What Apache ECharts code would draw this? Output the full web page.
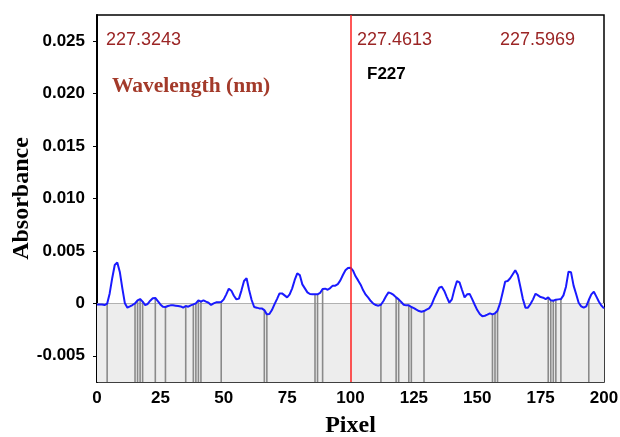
<!DOCTYPE html>
<html>
<head>
<meta charset="utf-8">
<script src="https://cdn.jsdelivr.net/npm/echarts@6/dist/echarts.min.js"></script>
<style>
html, body { margin: 0; padding: 0; background: #fff; }
#chart { width: 620px; height: 437px; }
</style>
</head>
<body>
<div id="chart"></div>
<script>
// absorbance read for each detector pixel 0..200
var absorbance = [
  -0.00010, -0.00010, -0.00010, -0.00016, -0.00003, 0.00095, 0.00240, 0.00366, 0.00390, 0.00300,
  0.00143, 0.00000, -0.00041, -0.00029, -0.00016, 0.00000, 0.00029, 0.00041, 0.00016, -0.00016,
  -0.00006, 0.00025, 0.00048, 0.00051, 0.00022, -0.00010, -0.00032, -0.00035, -0.00025, -0.00019,
  -0.00019, -0.00022, -0.00025, -0.00029, -0.00041, -0.00025, -0.00032, -0.00019, -0.00010, 0.00000,
  0.00029, 0.00016, 0.00029, 0.00016, 0.00006, -0.00016, 0.00000, 0.00010, 0.00010, 0.00013,
  0.00038, 0.00086, 0.00140, 0.00121, 0.00073, 0.00038, 0.00045, 0.00124, 0.00213, 0.00239,
  0.00127, 0.00032, -0.00035, -0.00041, -0.00048, -0.00048, -0.00064, -0.00105, -0.00102, -0.00064,
  -0.00010, 0.00041, 0.00095, 0.00095, 0.00076, 0.00057, 0.00086, 0.00143, 0.00223, 0.00286,
  0.00270, 0.00181, 0.00143, 0.00105, 0.00089, 0.00086, 0.00086, 0.00086, 0.00099, 0.00137,
  0.00140, 0.00130, 0.00146, 0.00169, 0.00169, 0.00184, 0.00219, 0.00270, 0.00315, 0.00337,
  0.00340, 0.00312, 0.00258, 0.00219, 0.00178, 0.00124, 0.00083, 0.00054, 0.00022, -0.00003,
  -0.00016, -0.00022, -0.00013, 0.00022, 0.00067, 0.00105, 0.00095, 0.00080, 0.00057, 0.00038,
  0.00013, -0.00013, -0.00019, -0.00019, -0.00035, -0.00045, -0.00060, -0.00073, -0.00080, -0.00073,
  -0.00060, -0.00048, -0.00013, 0.00048, 0.00099, 0.00149, 0.00159, 0.00118, 0.00060, 0.00006,
  0.00038, 0.00134, 0.00213, 0.00200, 0.00127, 0.00057, 0.00086, 0.00090, 0.00040, -0.00013,
  -0.00064, -0.00102, -0.00124, -0.00118, -0.00108, -0.00095, -0.00105, -0.00095, -0.00070, 0.00000,
  0.00102, 0.00207, 0.00213, 0.00239, 0.00277, 0.00315, 0.00270, 0.00159, 0.00041, -0.00041,
  -0.00041, -0.00006, 0.00038, 0.00092, 0.00076, 0.00060, 0.00054, 0.00041, 0.00057, 0.00029,
  0.00025, 0.00035, 0.00038, 0.00041, 0.00076, 0.00159, 0.00302, 0.00296, 0.00169, 0.00089,
  0.00006, -0.00029, -0.00041, -0.00029, 0.00032, 0.00086, 0.00111, 0.00064, 0.00016, -0.00022,
  -0.00048
];
// pixels marked with grey lines
var linePixels = [4, 15, 16, 17, 18, 23, 27, 35, 38, 39, 40, 41, 49, 66, 67, 86, 87, 89,
  112, 118, 119, 123, 124, 129, 156, 157, 158, 178, 179, 180, 181, 183, 194];
var yTicks = [-0.005, 0, 0.005, 0.010, 0.015, 0.020, 0.025];
var wavelengths = ['227.3243', '227.4613', '227.5969'];
var markerPixel = 100;
var markerName = 'F227';

var yMin = -0.0075, yMax = 0.0275;

var chart = echarts.init(document.getElementById('chart'));

var seriesData = [];
for (var i = 0; i < absorbance.length; i++) {
  seriesData.push([i, absorbance[i]]);
}
var lineData = linePixels.map(function (p) { return [p, absorbance[p]]; });

var tickFont = { color: '#000', fontFamily: '"Liberation Sans", Arial', fontWeight: 'bold', fontSize: 17 };
var nameFont = { color: '#000', fontFamily: '"Liberation Serif", "Times New Roman"', fontWeight: 'bold', fontSize: 24 };
var redFont = '18px "Liberation Sans", Arial';

var option = {
  animation: false,
  backgroundColor: '#fff',
  grid: {
    left: 97, top: 15, right: 16, bottom: 55,
    outerBoundsMode: 'none',
    containLabel: false,
    show: true, borderColor: '#000', borderWidth: 1.5
  },
  xAxis: {
    type: 'value', min: 0, max: 200, interval: 25,
    name: 'Pixel', nameLocation: 'middle', nameGap: 32, nameTextStyle: nameFont,
    axisLine: { lineStyle: { color: '#000', width: 2 } },
    axisTick: { length: 4, lineStyle: { color: '#000' } },
    axisLabel: Object.assign({ margin: 8 }, tickFont),
    splitLine: { show: false }
  },
  yAxis: {
    type: 'value', min: yMin, max: yMax,
    name: 'Absorbance', nameLocation: 'middle', nameGap: 63, nameMoveOverlap: false,
    nameTextStyle: nameFont,
    axisLine: { show: true, lineStyle: { color: '#000', width: 2 } },
    axisTick: { show: true, length: 4, customValues: yTicks, lineStyle: { color: '#000' } },
    axisLabel: Object.assign({
      margin: 12,
      customValues: yTicks,
      formatter: function (v) { return Math.abs(v) < 1e-9 ? '0' : v.toFixed(3); }
    }, tickFont),
    splitLine: { show: false }
  },
  series: [
    {
      type: 'custom',
      z: 2,
      data: lineData,
      renderItem: function (params, api) {
        var top = api.coord([api.value(0), api.value(1)]);
        var bottom = api.coord([api.value(0), yMin]);
        return {
          type: 'line',
          shape: { x1: top[0], y1: top[1], x2: bottom[0], y2: bottom[1] },
          style: { stroke: '#8a8a8a', lineWidth: 1.6 }
        };
      },
      markArea: {
        silent: true,
        itemStyle: { color: '#ededed' },
        data: [[{ yAxis: 0 }, { yAxis: yMin }]]
      }
    },
    {
      type: 'line',
      z: 3,
      data: seriesData,
      symbol: 'none',
      lineStyle: { color: '#1a1aff', width: 2 },
      markLine: {
        silent: true,
        symbol: 'none',
        label: { show: false },
        lineStyle: { color: '#ff1f1f', width: 1.5, type: 'solid' },
        data: [{ xAxis: markerPixel }]
      }
    }
  ],
  graphic: [
    { type: 'text', left: 106, top: 31, style: { text: wavelengths[0], fill: '#9b2525', font: redFont } },
    { type: 'text', left: 357, top: 31, style: { text: wavelengths[1], fill: '#9b2525', font: redFont } },
    { type: 'text', left: 500, top: 31, style: { text: wavelengths[2], fill: '#9b2525', font: redFont } },
    { type: 'text', left: 112, top: 75, style: { text: 'Wavelength (nm)', fill: '#a33a2a', font: 'bold 21.5px "Liberation Serif", "Times New Roman"' } },
    { type: 'text', left: 367, top: 66, style: { text: markerName, fill: '#000', font: 'bold 17px "Liberation Sans", Arial' } }
  ]
};

chart.setOption(option);
</script>
</body>
</html>
